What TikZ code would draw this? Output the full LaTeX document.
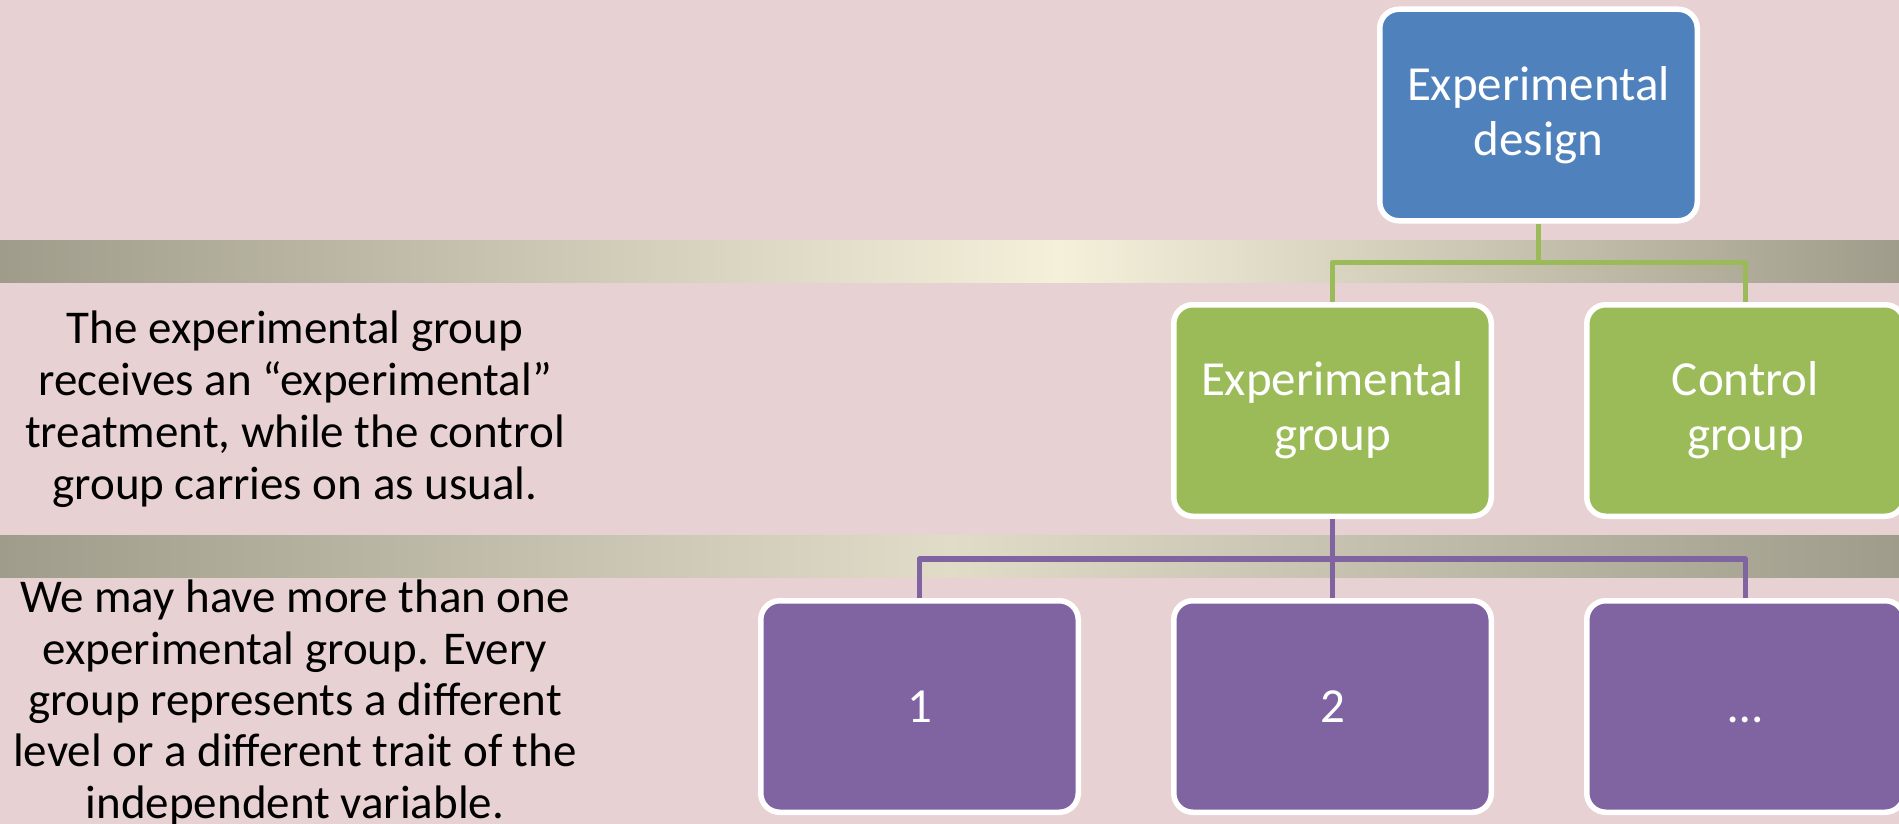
\documentclass[tikz,border=0pt]{standalone}
\usepackage{fontspec}
\setmainfont{Carlito}
\definecolor{bg}{HTML}{E8D1D2}
\definecolor{bandD}{HTML}{A09C8B}
\definecolor{bandL}{HTML}{F5F0DA}
\definecolor{bandM}{HTML}{E0DCC8}
\definecolor{boxblue}{HTML}{4F81BD}
\definecolor{boxgreen}{HTML}{9BBB59}
\definecolor{boxpurple}{HTML}{8064A2}
\begin{document}
\begin{tikzpicture}[x=1pt,y=-1pt,
  box/.style={rectangle, rounded corners=19pt, draw=white, line width=5.5pt,
    minimum width=317.5pt, minimum height=211.5pt, inner sep=0pt, text=white,
    align=center, font=\fontsize{49}{55}\selectfont},
  bluebox/.style={box, fill=boxblue},
  greenbox/.style={box, fill=boxgreen},
  purplebox/.style={box, fill=boxpurple, text height=31pt, text depth=0pt},
  gline/.style={draw=boxgreen, line width=5pt, line join=round},
  pline/.style={draw=boxpurple, line width=5.5pt, line join=round},
  note/.style={align=center, inner sep=0pt, text=black}
]
\useasboundingbox (0,0) rectangle (1899,824);
\fill[bg] (0,0) rectangle (1899,824);
% bands
\shade[left color=bandD, right color=bandL] (0,240) rectangle (1060,282);
\shade[left color=bandL, right color=bandD] (1060,240) rectangle (1899,282);
\shade[left color=bandD, right color=bandM] (0,535) rectangle (950,577);
\shade[left color=bandM, right color=bandD] (950,535) rectangle (1899,577);

% boxes
\node[bluebox] (top) at (1538.5,115) {Experimental\\design};
\node[greenbox] (g1) at (1332.5,410.5) {Experimental\\group};
\node[greenbox] (g2) at (1745.5,410.5) {Control\\group};
\node[purplebox] (p1) at (919.5,706.5) {1};
\node[purplebox] (p2) at (1332.5,706.5) {2};
\node[purplebox] (p3) at (1745.5,706.5) {…};

% connectors
\coordinate (ja) at (1538.5,262.5);
\coordinate (jb) at (1332.5,559);
\draw[gline] (top.south) -- (ja);
\draw[gline] (g1.north) |- (ja) -| (g2.north);
\draw[pline] (g1.south) -- (p2.north);
\draw[pline] (p1.north) |- (jb) -| (p3.north);

% side texts (anchor=base is the baseline of the last line)
\node[note, anchor=base, font=\fontsize{47}{52}\selectfont] (t1) at (295,499)
  {The experimental group\\receives an “experimental”\\treatment, while the control\\group carries on as usual.};
\node[note, anchor=base, font=\fontsize{47}{51.3}\selectfont] (t2) at (295,818)
  {We may have more than one\\experimental group. Every\\group represents a different\\level or a different trait of the\\independent variable.};
\end{tikzpicture}
\end{document}
